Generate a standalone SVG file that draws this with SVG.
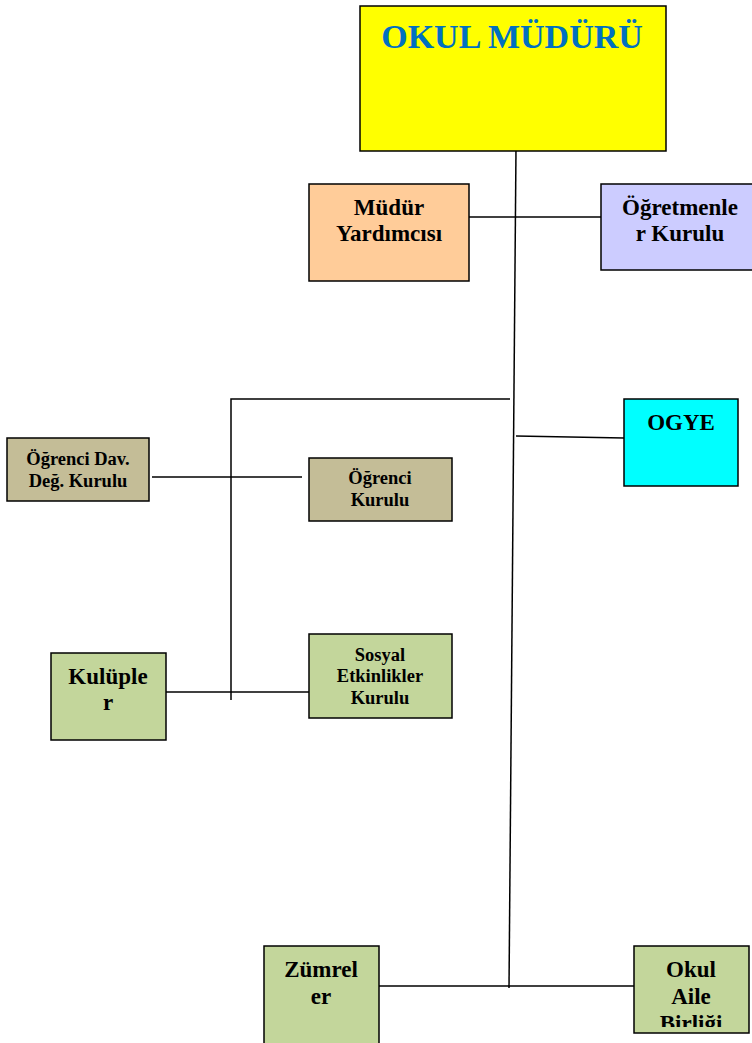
<svg xmlns="http://www.w3.org/2000/svg" width="752" height="1043" viewBox="0 0 752 1043">
<style>
.box{stroke:#000;stroke-width:1.5}
.t{font-family:"Liberation Serif","Times New Roman",serif;font-weight:bold;text-anchor:middle;fill:#000}
.L{font-size:23px}
.S{font-size:18.5px}
.c{stroke:#000;stroke-width:1.5;fill:none}
</style>
<defs>
<clipPath id="clipOAB"><rect x="634" y="946" width="116" height="81"/></clipPath>
</defs>
<rect width="752" height="1043" fill="#fff"/>
<g id="connectors">
<line class="c" x1="516" y1="148" x2="509" y2="988"/>
<line class="c" x1="469" y1="217" x2="601" y2="217"/>
<polyline class="c" points="510,399 231,399 231,700"/>
<line class="c" x1="516" y1="436" x2="624" y2="438"/>
<line class="c" x1="152" y1="477" x2="302" y2="477"/>
<line class="c" x1="164" y1="692" x2="320" y2="692"/>
<line class="c" x1="377" y1="986" x2="634" y2="986"/>
</g>
<g id="okul-muduru">
<rect class="box" x="360" y="6" width="306" height="145" fill="#FFFF00"/>
<text class="t" x="512" y="48" font-size="34" style="fill:#0070C0">OKUL MÜDÜRÜ</text>
</g>
<g id="mudur-yardimcisi">
<rect class="box" x="309" y="184" width="160" height="97" fill="#FFCC99"/>
<text class="t L" x="389" y="215">Müdür</text>
<text class="t L" x="389" y="241">Yardımcısı</text>
</g>
<g id="ogretmenler-kurulu">
<rect class="box" x="601" y="184" width="152" height="86" fill="#CCCCFF"/>
<text class="t L" x="680" y="215">Öğretmenle</text>
<text class="t L" x="680" y="241">r Kurulu</text>
</g>
<g id="ogye">
<rect class="box" x="624" y="399" width="114" height="87" fill="#00FFFF"/>
<text class="t L" x="681" y="430">OGYE</text>
</g>
<g id="ogrenci-dav">
<rect class="box" x="7" y="438" width="142" height="63" fill="#C4BD97"/>
<text class="t S" x="78" y="465">Öğrenci Dav.</text>
<text class="t S" x="78" y="487">Değ. Kurulu</text>
</g>
<g id="ogrenci-kurulu">
<rect class="box" x="309" y="458" width="143" height="63" fill="#C4BD97"/>
<text class="t S" x="380" y="484">Öğrenci</text>
<text class="t S" x="380" y="506">Kurulu</text>
</g>
<g id="sosyal-etkinlikler">
<rect class="box" x="309" y="634" width="143" height="84" fill="#C3D69B"/>
<text class="t S" x="380" y="661">Sosyal</text>
<text class="t S" x="380" y="682">Etkinlikler</text>
<text class="t S" x="380" y="704">Kurulu</text>
</g>
<g id="kulupler">
<rect class="box" x="51" y="653" width="115" height="87" fill="#C3D69B"/>
<text class="t L" x="108" y="684">Kulüple</text>
<text class="t L" x="108" y="710">r</text>
</g>
<g id="zumreler">
<rect class="box" x="264" y="946" width="115" height="100" fill="#C3D69B"/>
<text class="t L" x="321" y="977">Zümrel</text>
<text class="t L" x="321" y="1004">er</text>
</g>
<g id="okul-aile-birligi">
<rect class="box" x="634" y="946" width="115" height="87" fill="#C3D69B"/>
<text class="t L" x="691" y="977">Okul</text>
<text class="t L" x="691" y="1004">Aile</text>
<text class="t L" x="691" y="1031" clip-path="url(#clipOAB)">Birliği</text>
</g>
</svg>
